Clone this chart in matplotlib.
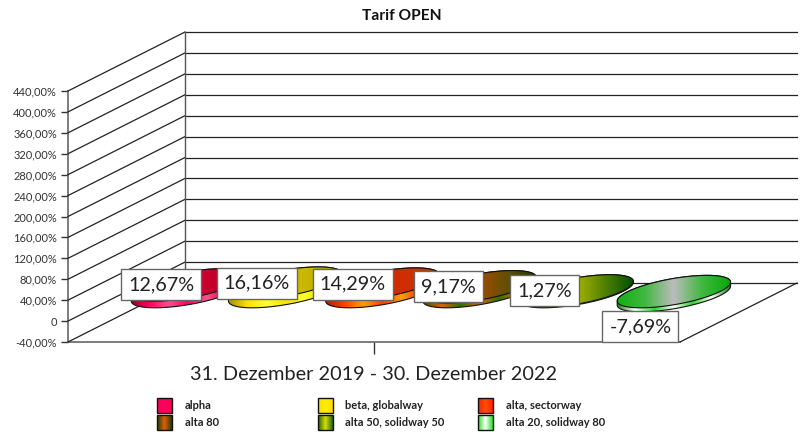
import numpy as np
from matplotlib import pyplot as plt
from matplotlib.colors import LinearSegmentedColormap
from matplotlib.patches import PathPatch, Rectangle
from matplotlib.path import Path
from matplotlib.transforms import IdentityTransform
from matplotlib.lines import Line2D

plt.rcParams['font.family'] = ['Lato', 'DejaVu Sans']

# data
names = ["alpha", "beta, globalway", "alta, sectorway",
         "alta 80", "alta 50, solidway 50", "alta 20, solidway 80"]
values = [12.67, 16.16, 14.29, 9.17, 1.27, -7.69]
value_labels = ["12,67%", "16,16%", "14,29%", "9,17%", "1,27%", "-7,69%"]
y_ticks = [-40, 0, 40, 80, 120, 160, 200, 240, 280, 320, 360, 400, 440]
y_tick_labels = ["-40,00%", "0", "40,00%", "80,00%", "120,00%", "160,00%", "200,00%",
                 "240,00%", "280,00%", "320,00%", "360,00%", "400,00%", "440,00%"]
period = "31. Dezember 2019 - 30. Dezember 2022"

# colours, left to right across a disc
top_colors = [
    ["#ff0060", "#ff0050", "#e00038", "#c00028", "#a80020"],
    ["#ffe800", "#f0dc00", "#d4c000", "#c4b400", "#a89800"],
    ["#ff5000", "#f04000", "#d82800", "#cc3000", "#c04000"],
    ["#e06000", "#c85800", "#a04c00", "#605000", "#1c3c00"],
    ["#d8d800", "#c8c800", "#a8b400", "#508000", "#005000"],
    ["#10b010", "#40b840", "#bcbcbc", "#40b840", "#08a808"],
]
side_colors = [
    ["#900020", "#ff0060", "#ff5090", "#ff0060", "#ff5090", "#e00040", "#800018"],
    ["#a09000", "#ffe000", "#ffff30", "#ffe000", "#ffff30", "#e0c800", "#908000"],
    ["#a02000", "#ff4000", "#ffa000", "#ff4000", "#ffa000", "#e03000", "#902000"],
    ["#305000", "#e06000", "#307000", "#e06000", "#307000", "#e06000", "#204000"],
    ["#205000", "#a0c000", "#e0e000", "#a0c000", "#e0e000", "#60a000", "#104000"],
    ["#108010", "#ffffff", "#30d030", "#ffffff", "#30d030", "#ffffff", "#108010"],
]
legend_colors = [
    ["#ff0050", "#ff0060", "#ff0050"],
    ["#ffd800", "#fff000", "#ffd800"],
    ["#ff2000", "#ff5000", "#ff2000"],
    ["#1c3c00", "#e06000", "#1c3c00"],
    ["#206000", "#d8e000", "#206000"],
    ["#20e020", "#ffffff", "#20e020"],
]

DEPTH = np.array([117.0, 59.0])
HALF = DEPTH / 2 + np.array([1.0, 0.0])
ANGLE = np.radians(10)
A, B = 57.5, 13
PIX = IdentityTransform()

fig = plt.figure(figsize=(8.03, 4.34), dpi=100)
ax = fig.add_axes([68 / 803, 92 / 434, 612 / 803, 251 / 434])
# overlay covering the whole figure, for the gradient fills
ov = fig.add_axes([0, 0, 1, 1], zorder=5)
ov.axis("off")


def gradient(colors, x0, x1, y0, y1, path=None, z=3):
    cmap = LinearSegmentedColormap.from_list("g", colors, N=256)
    im = ov.imshow(np.linspace(0, 1, 256)[None, :], extent=(x0, x1, y0, y1), cmap=cmap,
                   aspect="auto", interpolation="bilinear", transform=PIX, zorder=z)
    if path is not None:
        im.set_clip_path(path, PIX)
    return im


def ring(center):
    t = np.linspace(0, 2 * np.pi, 181)
    x = A * np.cos(t) * np.cos(ANGLE) - B * np.sin(t) * np.sin(ANGLE)
    y = A * np.cos(t) * np.sin(ANGLE) + B * np.sin(t) * np.cos(ANGLE)
    return np.column_stack([x + center[0], y + center[1]])


def add_path(points, z):
    path = Path(points)
    ov.add_patch(PathPatch(path, fc="none", ec="#111111", lw=0.8, transform=PIX,
                           clip_on=False, zorder=z))
    return path


ax.set_xlim(-0.622, 5.675)
ax.set_ylim(-40, 440)
xmin, xmax = ax.get_xlim()
to_px = ax.transData.transform

# walls
LINE = dict(color="#222222", lw=0.9, transform=PIX, zorder=1)
for v in y_ticks:
    front = to_px((xmin, v))
    back = front + DEPTH
    fig.add_artist(Line2D([front[0], back[0]], [front[1], back[1]], **LINE))
    end = to_px((xmax, v)) + DEPTH
    fig.add_artist(Line2D([back[0], end[0]], [back[1], back[1]], **LINE))
back_low = to_px((xmin, -40)) + DEPTH
back_high = to_px((xmin, 440)) + DEPTH
fig.add_artist(Line2D([back_low[0]] * 2, [back_low[1], back_high[1]], color="#555555", lw=1,
                      transform=PIX, zorder=1))
floor_a = to_px((xmax, -40))
floor_b = floor_a + DEPTH
fig.add_artist(Line2D([floor_a[0], floor_b[0]], [floor_a[1], floor_b[1]], **LINE))

ax.patch.set_visible(False)

# discs: cylinders from the zero level to the value
for i, v in enumerate(values):
    base = to_px((i, 0)) + HALF
    head = to_px((i, v)) + HALF
    upper, lower = (base, head) if v < 0 else (head, base)
    ring_up, ring_low = ring(upper), ring(lower)
    # left and right ends of the ring, the silhouette of the side
    li, ri = np.argmin(ring_low[:-1, 0]), np.argmax(ring_low[:-1, 0])
    lower_arc = np.roll(ring_low[:-1], -li, axis=0)[:((ri - li) % 180) + 1]
    upper_arc = np.roll(ring_up[:-1], -ri, axis=0)[:((li - ri) % 180) + 1]
    z = 3 + i
    side = add_path(np.vstack([lower_arc, upper_arc, lower_arc[:1]]), z + 0.2)
    x0, x1 = upper[0] - A, upper[0] + A
    gradient(side_colors[i], x0, x1, lower[1] - 25, upper[1] + 25, side, z)
    face = add_path(ring_up, z + 0.4)
    gradient(top_colors[i], x0, x1, upper[1] - 25, upper[1] + 25, face, z + 0.3)

# value boxes, sized around the measured text
renderer = fig.canvas.get_renderer()
for i, v in enumerate(values):
    level = to_px((i, v if v >= 0 else 0)) + HALF
    py = level[1] if v >= 0 else level[1] - 35
    px = level[0] - 27 - 1.3 * i
    t = ov.text(px, py, value_labels[i], transform=PIX, fontsize=14.2, color="#222222",
                ha="center", va="center", zorder=20, clip_on=False)
    w = t.get_window_extent(renderer).width + 14
    ov.add_patch(Rectangle((px - w / 2, py - 15.5), w, 31, fc="white", ec="#666666", lw=1,
                           transform=PIX, clip_on=False, zorder=19))

# axes
for s in ["top", "right"]:
    ax.spines[s].set_visible(False)
for s in ["left", "bottom"]:
    ax.spines[s].set_color("#666666")
    ax.spines[s].set_linewidth(1.2)
ax.set_yticks(y_ticks)
ax.set_yticklabels(y_tick_labels, fontsize=8.0, color="#333333")
ax.tick_params(axis="y", length=5, width=1, color="#333333", pad=2.8)
ax.set_xticks([(xmin + xmax) / 2])
ax.set_xticklabels([period], fontsize=14.3, color="#222222")
ax.tick_params(axis="x", length=8.5, width=1, color="#333333", pad=9)
ax.set_xlim(xmin, xmax)
ax.set_ylim(-40, 440)

fig.text(402 / 803, 1 - 16 / 434, "Tarif OPEN", fontsize=11.2, fontweight="bold",
         ha="center", va="center", color="#111111")

# legend
for i, name in enumerate(names):
    col, row = i % 3, i // 3
    x = 157 + 160.5 * col
    y = 434 - (413 + 17 * row)
    ov.add_patch(Rectangle((x, y), 15, 15, fc="none", ec="#111111", lw=1,
                           transform=PIX, clip_on=False, zorder=11))
    gradient(legend_colors[i], x, x + 15, y, y + 15, z=10)
    fig.text((x + 28) / 803, (y + 7.5) / 434, name, fontsize=8, fontweight="bold",
             ha="left", va="center", color="#222222")

ov.set_xlim(0, 1)
ov.set_ylim(0, 1)
fig.savefig("out.png", dpi=100)
